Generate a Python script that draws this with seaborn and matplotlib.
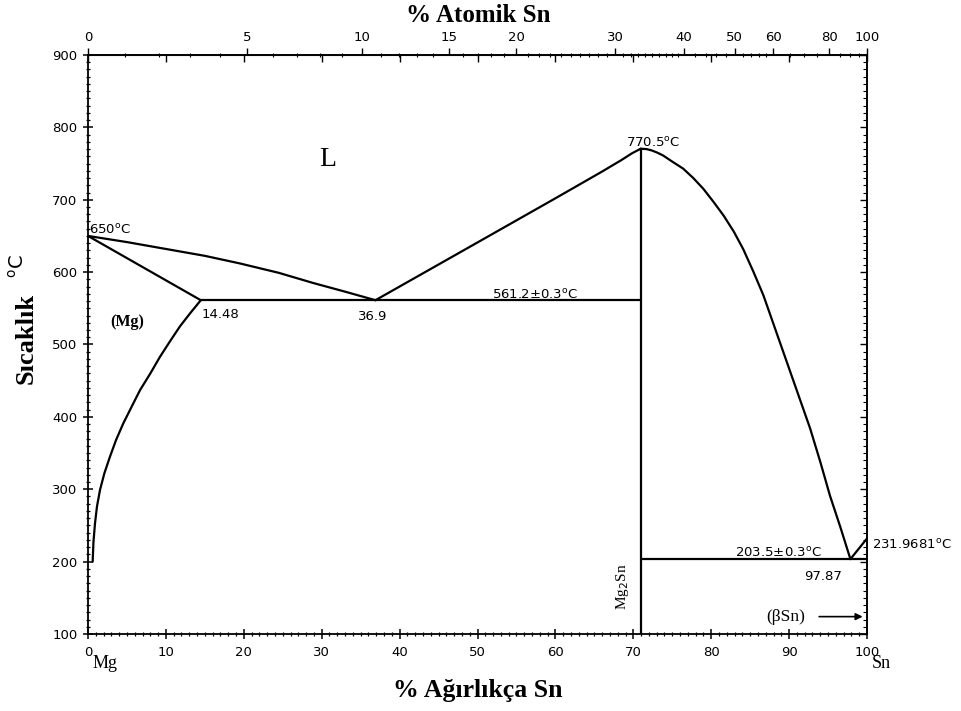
import numpy as np
import pandas as pd
import matplotlib
matplotlib.use("Agg")
import matplotlib.pyplot as plt
from matplotlib.ticker import MultipleLocator, FixedLocator, NullFormatter, FuncFormatter
import seaborn as sns

sns.set_style("white")
plt.rcParams['font.family'] = ['DejaVu Sans']
plt.rcParams['mathtext.fontset'] = 'dejavusans'
plt.rcParams['text.color'] = 'black'
plt.rcParams['xtick.color'] = 'black'
plt.rcParams['ytick.color'] = 'black'
plt.rcParams['axes.labelcolor'] = 'black'

# ---------------- data (wt.% Sn, temperature °C) ----------------
mg_liquidus_wt = [0, 5, 10, 15, 19.5, 24.5, 28.9, 33, 36.9]
mg_liquidus_t = [650, 641.5, 632, 622.5, 612, 599, 585, 573, 561.2]
mg_solidus_wt = [0, 14.48]
mg_solidus_t = [650, 561.2]
mg_solvus_wt = [14.48, 13.1, 11.8, 10.5, 9.24, 8.0, 6.68, 5.6, 4.53, 3.6, 2.82, 2.1, 1.54, 1.15, 0.9, 0.7, 0.6]
mg_solvus_t = [561.2, 543, 525, 504, 483, 460, 437, 414, 391, 368, 345, 322, 299, 276, 253, 227, 200]
eutectic1_wt = [14.48, 70.95]
eutectic1_t = [561.2, 561.2]
mg2sn_liq_left_wt = [36.9, 50, 60, 66, 68.5, 69.8, 70.95]
mg2sn_liq_left_t = [561.2, 641, 702, 739, 755, 764, 770.5]
mg2sn_wt = [70.95, 70.95]
mg2sn_t = [100, 770.5]
mg2sn_liq_right_wt = [70.95, 71.7, 72.4, 73.1, 73.85, 75.1, 76.4, 77.7, 79.0, 80.3, 81.6, 82.9,
                      84.1, 85.4, 86.7, 88.2, 89.7, 91.2, 92.7, 94.0, 95.25, 96.6, 97.87]
mg2sn_liq_right_t = [770.5, 770, 768, 765, 761, 752, 743, 730, 715, 697, 678, 656,
                     632, 601, 568, 522, 476, 430, 384, 338, 291, 247, 203.5]
eutectic2_wt = [70.95, 100]
eutectic2_t = [203.5, 203.5]
sn_liquidus_wt = [97.87, 100]
sn_liquidus_t = [203.5, 231.9681]

at_tick_labels = [0, 5, 10, 15, 20, 30, 40, 50, 60, 80, 100]

M_MG, M_SN = 24.305, 118.71


def wt2at(w):
    w = np.asarray(w, dtype=float)
    a = w / M_SN
    b = (100 - w) / M_MG
    return 100 * a / (a + b)


def at2wt(a):
    a = np.asarray(a, dtype=float)
    p = a * M_SN
    q = (100 - a) * M_MG
    return 100 * p / (p + q)


segments = [
    ("mg_liq", mg_liquidus_wt, mg_liquidus_t),
    ("mg_sol", mg_solidus_wt, mg_solidus_t),
    ("mg_solvus", mg_solvus_wt, mg_solvus_t),
    ("eut1", eutectic1_wt, eutectic1_t),
    ("mg2sn_l", mg2sn_liq_left_wt, mg2sn_liq_left_t),
    ("mg2sn", mg2sn_wt, mg2sn_t),
    ("mg2sn_r", mg2sn_liq_right_wt, mg2sn_liq_right_t),
    ("eut2", eutectic2_wt, eutectic2_t),
    ("sn_liq", sn_liquidus_wt, sn_liquidus_t),
]
rows = []
for name, xs, ys in segments:
    for i, (x, y) in enumerate(zip(xs, ys)):
        rows.append({"seg": name, "order": i, "wt": x, "T": y})
df = pd.DataFrame(rows)

fig = plt.figure(figsize=(9.61, 7.11), dpi=100)
ax = fig.add_axes([88 / 961, 77 / 711, 779 / 961, 579 / 711])

sns.lineplot(data=df, x="wt", y="T", units="seg", estimator=None, sort=False,
             color="black", lw=1.6, ax=ax, legend=False)

ax.set_xlim(0, 100)
ax.set_ylim(100, 900)
ax.set_xlabel("")
ax.set_ylabel("")
for s in ax.spines.values():
    s.set_linewidth(1.3)
    s.set_color("black")

ax.xaxis.set_major_locator(MultipleLocator(10))
ax.xaxis.set_minor_locator(MultipleLocator(1))
ax.yaxis.set_major_locator(MultipleLocator(100))
ax.yaxis.set_minor_locator(MultipleLocator(10))
ax.tick_params(which="both", bottom=True, left=True, top=False, right=False)
ax.tick_params(which="major", direction="inout", length=7, width=1.1,
               labelsize=9.5, colors="black", pad=4)
ax.tick_params(which="minor", direction="inout", length=3.5, width=0.9, colors="black")
ax.tick_params(axis="x", which="major", pad=5)

# mirrored ticks on right
sec_r = ax.secondary_yaxis("right")
sec_r.yaxis.set_major_locator(MultipleLocator(100))
sec_r.yaxis.set_minor_locator(MultipleLocator(10))
sec_r.tick_params(which="both", right=True)
sec_r.tick_params(which="major", direction="in", length=5, width=1.0, labelright=False)
sec_r.tick_params(which="minor", direction="in", length=3, width=0.8)
sec_r.yaxis.set_major_formatter(NullFormatter())
sec_r.spines["right"].set_linewidth(1.3)

# mirrored wt ticks on top (inward)
sec_tw = ax.secondary_xaxis("top")
sec_tw.xaxis.set_major_locator(MultipleLocator(10))
sec_tw.tick_params(which="both", top=True)
sec_tw.tick_params(which="major", direction="in", length=5, width=1.0, labeltop=False)
sec_tw.xaxis.set_major_formatter(NullFormatter())

# atomic % on top
sec_at = ax.secondary_xaxis("top", functions=(wt2at, at2wt))
sec_at.xaxis.set_major_locator(FixedLocator(at_tick_labels))
minor_at = list(range(0, 40)) + list(range(40, 60, 2)) + list(range(60, 101, 5))
sec_at.xaxis.set_minor_locator(FixedLocator(minor_at))
sec_at.xaxis.set_major_formatter(FuncFormatter(lambda v, p: f"{v:.0f}"))
sec_at.tick_params(which="both", top=True)
sec_at.tick_params(which="major", direction="out", length=5, width=1.0, labelsize=9.5, pad=3)
sec_at.tick_params(which="minor", direction="inout", length=3, width=0.8)
sec_at.spines["top"].set_linewidth(1.3)

# ---------------- annotations ----------------
deg = r"$^{\mathrm{o}}$C"
serif = ["Liberation Serif", "DejaVu Serif"]
fs = 9.5
ax.text(30.8, 755, "L", family=serif, fontsize=20, ha="center", va="center")
ax.text(5.0, 531, "(Mg)", family=serif, fontsize=11.5, fontweight="bold", ha="center", va="center")
ax.text(0.1, 659, "650" + deg, fontsize=fs, ha="left", va="center")
ax.text(14.6, 541, "14.48", fontsize=fs, ha="left", va="center")
ax.text(36.6, 538, "36.9", fontsize=fs, ha="center", va="center")
ax.text(57.4, 569, "561.2±0.3" + deg, fontsize=fs, ha="center", va="center")
ax.text(72.6, 779, "770.5" + deg, fontsize=fs, ha="center", va="center")
ax.text(68.6, 165, r"Mg$_{2}$Sn", family=serif, fontsize=11, rotation=90,
        ha="center", va="center")
ax.text(88.6, 212, "203.5±0.3" + deg, fontsize=fs, ha="center", va="center")
ax.text(94.4, 180, "97.87", fontsize=fs, ha="center", va="center")
ax.text(100.6, 223, "231.9681" + deg, fontsize=fs, ha="left", va="center", clip_on=False)
ax.text(89.6, 124, "(βSn)", family=serif, fontsize=12.5, ha="center", va="center")
ax.annotate("", xy=(99.8, 124), xytext=(93.5, 124),
            arrowprops=dict(arrowstyle="-|>", color="black", lw=1.2, mutation_scale=10))
ax.text(2.2, 59, "Mg", family=serif, fontsize=13, ha="center", va="center", clip_on=False)
ax.text(101.8, 59, "Sn", family=serif, fontsize=13, ha="center", va="center", clip_on=False)

fig.text(478 / 961, 1 - 16 / 711, "% Atomik Sn", family=serif, fontsize=18,
         fontweight="bold", ha="center", va="center")
fig.text(478 / 961, 1 - 690 / 711, "% Ağırlıkça Sn", family=serif, fontsize=18.5,
         fontweight="bold", ha="center", va="center")
fig.text(26 / 961, 1 - 338 / 711, "Sıcaklık", family=serif, fontsize=19,
         fontweight="bold", rotation=90, ha="center", va="center")
fig.text(18 / 961, 1 - 266 / 711, r"$^{\mathrm{o}}$C", fontsize=14,
         rotation=90, ha="center", va="center")

fig.savefig("out.png", dpi=100, facecolor="white")
